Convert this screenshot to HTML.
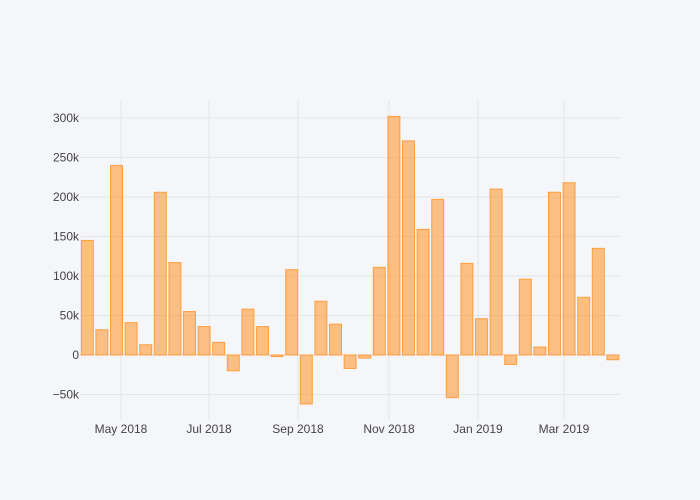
<!DOCTYPE html>
<html><head><meta charset="utf-8"><style>
html,body{margin:0;padding:0;background:#f5f6f9;}
svg{display:block;font-family:"Liberation Sans",sans-serif;}
</style></head><body>
<svg id="s" width="700" height="500" xmlns="http://www.w3.org/2000/svg">
<rect width="700" height="500" fill="#f5f6f9"/>
<g id="grid"></g><g id="bars"></g><g id="labels" font-size="12" fill="#444"></g>
</svg>
<script>
var ns="http://www.w3.org/2000/svg";
function el(p,t,a,txt){var e=document.createElementNS(ns,t);for(var k in a)e.setAttribute(k,a[k]);if(txt)e.textContent=txt;document.getElementById(p).appendChild(e);}
var y0=355,k=0.79,L=80,R=620;
[-50,50,100,150,200,250,300].forEach(function(v){var y=y0-v*k;
el('grid','line',{x1:L,x2:R,y1:y,y2:y,stroke:'#e3e6eb','stroke-width':1});
el('labels','text',{x:79,y:y+4,'text-anchor':'end'},(v<0?'\u221250k':v+'k'));});
el('labels','text',{x:79,y:y0+4,'text-anchor':'end'},'0');
[[121,'May 2018'],[209,'Jul 2018'],[298,'Sep 2018'],[389,'Nov 2018'],[478,'Jan 2019'],[564,'Mar 2019']].forEach(function(d){
el('grid','line',{x1:d[0],x2:d[0],y1:100,y2:420,stroke:'#e3e6eb','stroke-width':1});
el('labels','text',{x:d[0],y:433,'text-anchor':'middle'},d[1]);});
el('grid','line',{x1:L,x2:R,y1:y0,y2:y0,stroke:'#d0d4da','stroke-width':1});
var v=[145,32,240,41,13,206,117,55,36,16,-20,58,36,-2,108,-62,68,39,-17,-4,111,302,271,159,197,-54,116,46,210,-12,96,10,206,218,73,135,-6];
v.forEach(function(d,i){var cx=87.3+i*14.6;var h=Math.abs(d)*k;var y=d>=0?y0-h:y0;
el('bars','rect',{x:cx-6,y:y,width:12,height:Math.max(h,0.5),fill:'rgba(255,153,51,0.6)',stroke:'rgba(255,153,51,0.9)','stroke-width':1});});
</script>
</body></html>
